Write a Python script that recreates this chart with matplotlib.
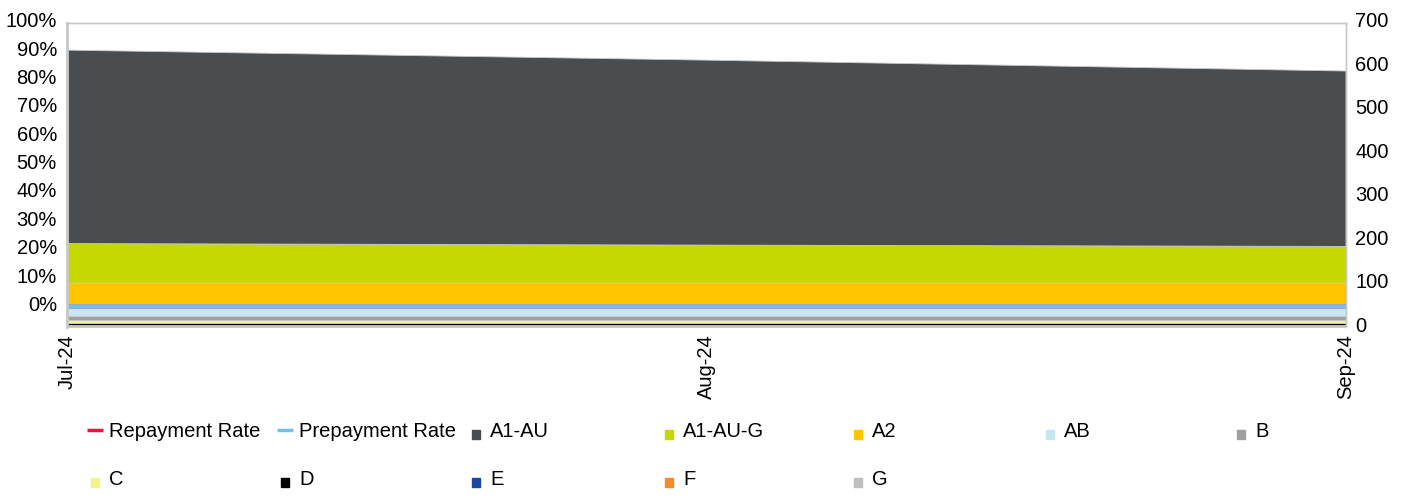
import matplotlib
matplotlib.use("Agg")
import matplotlib.pyplot as plt
from matplotlib.lines import Line2D
from matplotlib.markers import MarkerStyle
import matplotlib.transforms as mtransforms
import matplotlib.patheffects as pe

plt.rcParams['font.family'] = ['Liberation Sans', 'DejaVu Sans']

# ---- data ----
months = ['Jul-24', 'Aug-24', 'Sep-24']
repayment_rate = [0.2, 0.2, 0.2]      # %
prepayment_rate = [0.2, 0.2, 0.2]     # %
a1_au = [445, 425.5, 403.5]
a1_au_g = [91, 87.5, 84.5]
a2 = [49, 49, 49]
ab = [28, 28, 28]
b = [9, 9, 9]
c = [7.5, 7.5, 7.5]
d = [4.0, 4.0, 4.0]
e = [0.5, 0.5, 0.5]
f = [2.4, 2.4, 2.4]
g = [1.6, 1.6, 1.6]

pct_ticks = [0, 10, 20, 30, 40, 50, 60, 70, 80, 90, 100]
amt_ticks = [0, 100, 200, 300, 400, 500, 600, 700]

# ---- styles ----
col = {
    'A1-AU': '#4A4D50', 'A1-AU-G': '#C5D800', 'A2': '#FFC600', 'AB': '#C6E6F2',
    'B': '#A0A0A0', 'C': '#F2F58A', 'D': '#000000', 'E': '#1A47A0',
    'F': '#F28C28', 'G': '#BEBEBE',
}
red = '#E4173E'
blue = '#6EC4E8'
FS = 14.5

W, H = 1402, 499
fig = plt.figure(figsize=(W / 100, H / 100), dpi=100)
L, R, T, B_ = 66.7, 1345.7, 22.7, 327
ax = fig.add_axes([L / W, 1 - B_ / H, (R - L) / W, (B_ - T) / H])
ax2 = ax.twinx()
ax.set_zorder(ax2.get_zorder() + 1)
ax.patch.set_visible(False)

x = list(range(len(months)))

# stacked areas on right axis (bottom-up)
names = ['G', 'F', 'E', 'D', 'C', 'B', 'AB', 'A2', 'A1-AU-G', 'A1-AU']
series = [g, f, e, d, c, b, ab, a2, a1_au_g, a1_au]
ax2.stackplot(x, *series, colors=[col[n] for n in names],
              edgecolor='#C8C8C8', linewidth=0.6)
ax2.set_ylim(0, 700)
ax2.set_yticks(amt_ticks)
ax2.set_yticklabels([str(t) for t in amt_ticks])

# rate lines on left axis
ax.plot(x, repayment_rate, color=red, lw=2.5, solid_capstyle='butt')
ax.plot(x, prepayment_rate, color=blue, lw=2.5, solid_capstyle='butt',
        path_effects=[pe.Stroke(linewidth=3.4, foreground='#A49BD0'), pe.Normal()])
ax.set_ylim(-7.23, 99.06)
ax.set_yticks(pct_ticks)
ax.set_yticklabels([f'{t}%' for t in pct_ticks])

ax.set_xlim(0, len(months) - 1)
ax.set_xticks(x)
ax.set_xticklabels(months, rotation=90)

for a in (ax, ax2):
    a.tick_params(length=0, labelsize=FS, colors='#000000', pad=7)
    for s in a.spines.values():
        s.set_color('#C8C8C8')
        s.set_linewidth(1.0)
    a.spines['bottom'].set_visible(False)
ax.spines['left'].set_linewidth(2.0)
ax.tick_params(axis='x', pad=5)

# shift y tick labels up a few pixels
off = mtransforms.ScaledTranslation(0, 3 / 100, fig.dpi_scale_trans)
for a in (ax, ax2):
    for tk in a.yaxis.get_major_ticks():
        tk.label1.set_transform(tk.label1.get_transform() + off)
        tk.label2.set_transform(tk.label2.get_transform() + off)

# ---- legend (column by column) ----
def line_h(c_):
    return Line2D([0], [0], color=c_, lw=2.5, solid_capstyle='butt')

sq_marker = MarkerStyle('s', transform=mtransforms.Affine2D().translate(0, -0.55))

def sq_h(c_):
    return Line2D([0], [0], color=c_, marker=sq_marker, markersize=6.3, linestyle='none')

columns = [
    (87, [(line_h(red), 'Repayment Rate'), (sq_h(col['C']), 'C')]),
    (277, [(line_h(blue), 'Prepayment Rate'), (sq_h(col['D']), 'D')]),
    (468, [(sq_h(col['A1-AU']), 'A1-AU'), (sq_h(col['E']), 'E')]),
    (661, [(sq_h(col['A1-AU-G']), 'A1-AU-G'), (sq_h(col['F']), 'F')]),
    (850, [(sq_h(col['A2']), 'A2'), (sq_h(col['G']), 'G')]),
    (1042, [(sq_h(col['AB']), 'AB')]),
    (1233, [(sq_h(col['B']), 'B')]),
]
for xpx, entries in columns:
    hs = [h for h, _ in entries]
    ls = [l for _, l in entries]
    fig.legend(hs, ls, loc='upper left', bbox_to_anchor=(xpx / W, 1 - 422 / H),
               frameon=False, fontsize=FS, borderpad=0, borderaxespad=0,
               handlelength=0.8, handletextpad=0.3, labelspacing=1.45)

fig.savefig('out.png', dpi=100)
